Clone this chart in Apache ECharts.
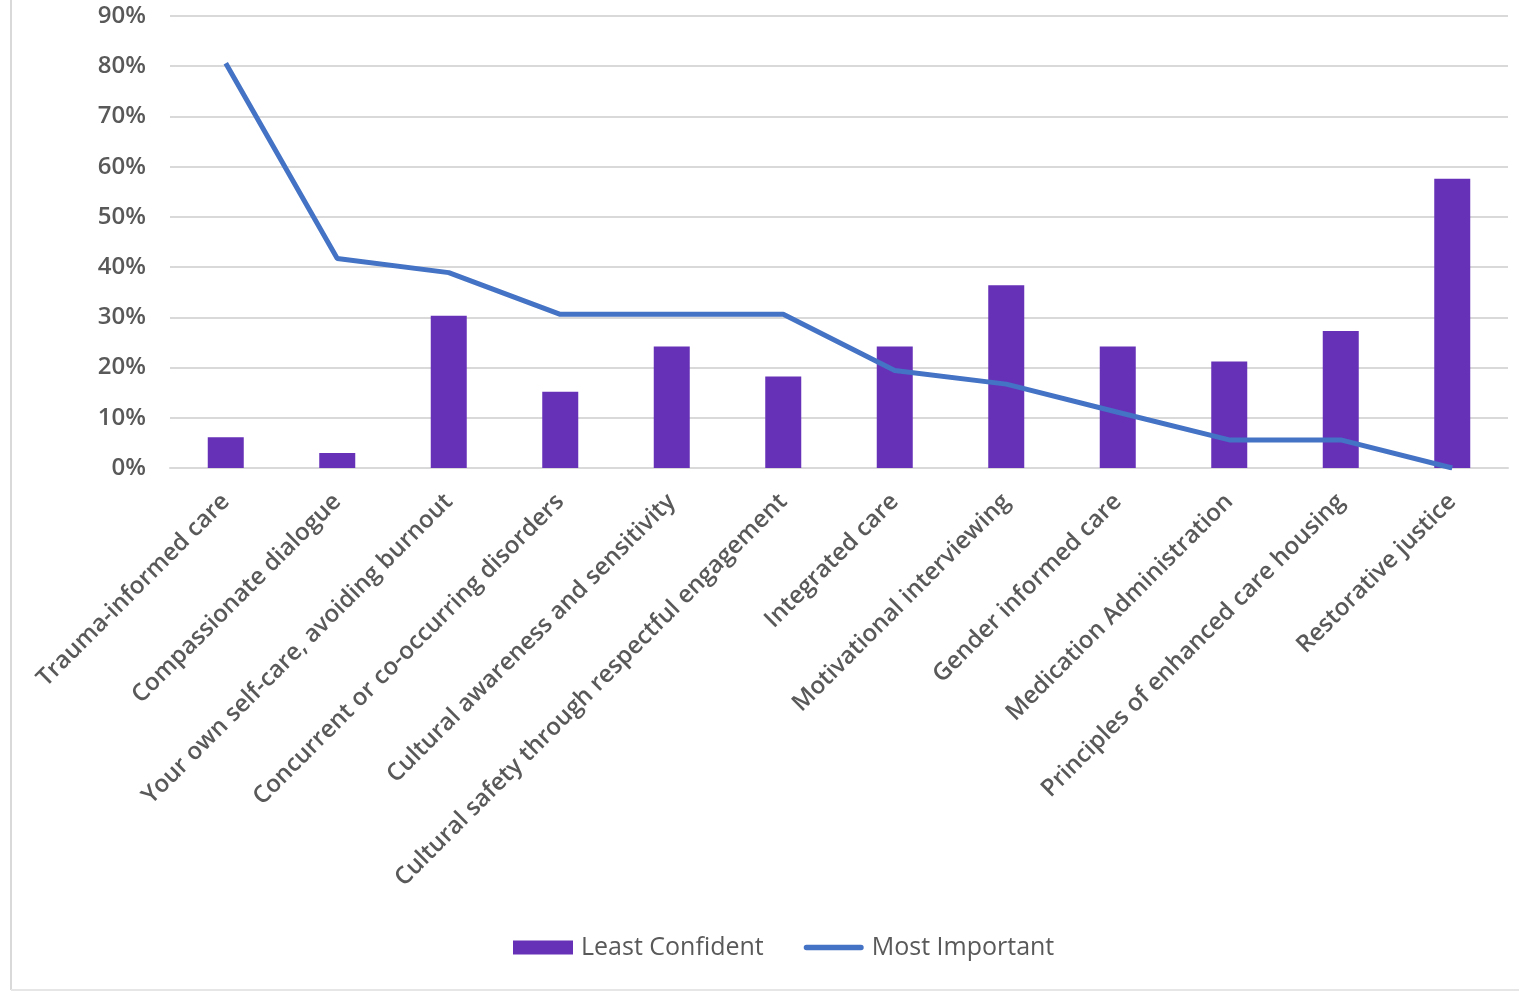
<!DOCTYPE html>
<html>
<head>
<meta charset="utf-8">
<script src="https://cdn.jsdelivr.net/npm/echarts@6/dist/echarts.min.js"></script>
<style>
html,body{margin:0;padding:0;background:#fff;}
#chart{width:1519px;height:991px;}
</style>
</head>
<body>
<div id="chart"></div>
<script>
const categories = [
  "Trauma-informed care",
  "Compassionate dialogue",
  "Your own self-care, avoiding burnout",
  "Concurrent or co-occurring disorders",
  "Cultural awareness and sensitivity",
  "Cultural safety through respectful engagement",
  "Integrated care",
  "Motivational interviewing",
  "Gender informed care",
  "Medication Administration",
  "Principles of enhanced care housing",
  "Restorative justice"
];
const leastConfident = [6.1, 3.0, 30.3, 15.2, 24.2, 18.2, 24.2, 36.4, 24.2, 21.2, 27.3, 57.6];
const mostImportant = [80.6, 41.7, 38.9, 30.6, 30.6, 30.6, 19.4, 16.7, 11.1, 5.6, 5.6, 0];
const yTicks = [0, 10, 20, 30, 40, 50, 60, 70, 80, 90];

const chart = echarts.init(document.getElementById('chart'));
const font = '"Open Sans", "Noto Sans", sans-serif';
chart.setOption({
  animation: false,
  backgroundColor: '#fff',
  graphic: [
    { type: 'line', shape: { x1: 11, y1: 0, x2: 11, y2: 990 }, style: { stroke: '#d9d9d9', lineWidth: 2 } },
    { type: 'line', shape: { x1: 11, y1: 990, x2: 1519, y2: 990 }, style: { stroke: '#e6e6e6', lineWidth: 2 } }
  ],
  grid: { left: 170, right: 11, top: 16, bottom: 523, containLabel: false },
  legend: {
    bottom: 26,
    left: 508,
    itemGap: 40,
    itemWidth: 60,
    itemHeight: 14,
    textStyle: { fontSize: 25, color: '#595959', fontFamily: font, padding: [0, 0, 0, 3] },
    data: [
      { name: 'Least Confident', icon: 'rect' },
      { name: 'Most Important', icon: 'path://M3,0 L63,0 A3,3 0 0 1 63,6 L3,6 A3,3 0 0 1 3,0 Z' }
    ]
  },
  xAxis: {
    type: 'category',
    data: categories,
    axisLine: { show: true, lineStyle: { color: '#d9d9d9', width: 2 } },
    axisTick: { show: false },
    axisLabel: {
      interval: 0,
      rotate: 45,
      fontSize: 24,
      fontWeight: 600,
      color: '#595959',
      fontFamily: font,
      margin: 30
    }
  },
  yAxis: {
    type: 'value',
    min: 0,
    max: 90,
    interval: 10,
    axisLine: { show: false },
    axisTick: { show: false },
    splitLine: { lineStyle: { color: '#d9d9d9', width: 2 } },
    axisLabel: {
      fontSize: 24,
      fontWeight: 600,
      color: '#595959',
      fontFamily: font,
      margin: 24,
      formatter: v => yTicks.includes(v) ? v + '%' : ''
    }
  },
  series: [
    {
      name: 'Least Confident',
      type: 'bar',
      data: leastConfident,
      barWidth: 36,
      itemStyle: { color: '#6631b7' }
    },
    {
      name: 'Most Important',
      type: 'line',
      data: mostImportant,
      symbol: 'none',
      showSymbol: false,
      lineStyle: { color: '#4472c4', width: 5 },
      itemStyle: { color: '#4472c4' }
    }
  ]
});
</script>
</body>
</html>
